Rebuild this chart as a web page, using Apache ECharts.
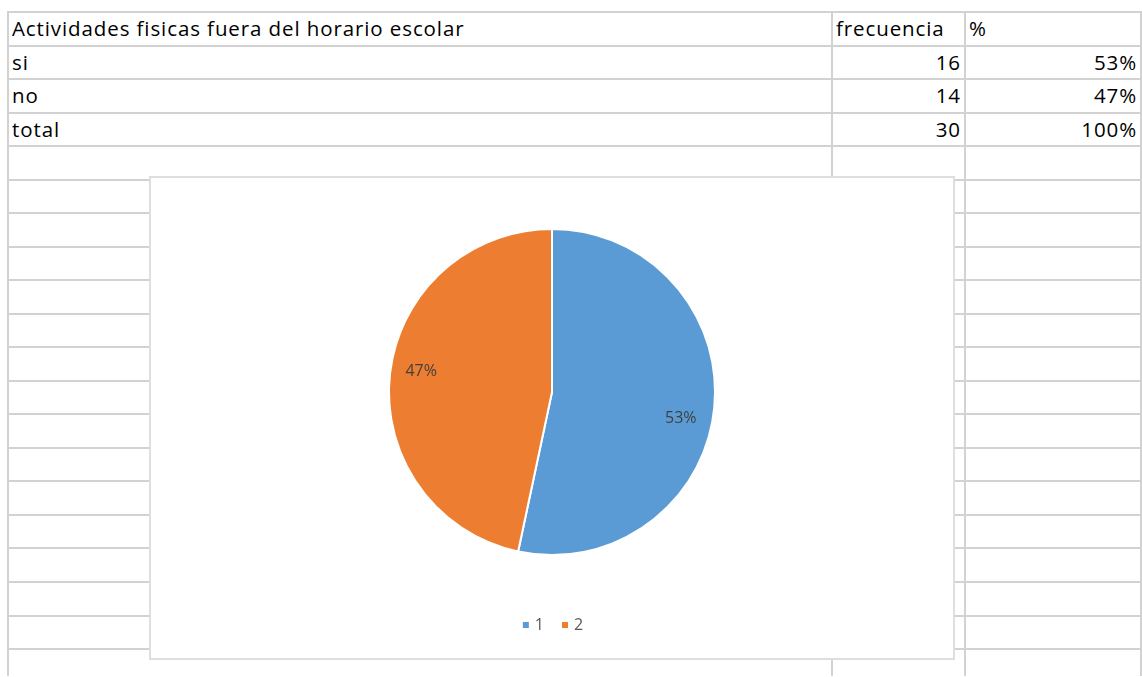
<!DOCTYPE html>
<html>
<head>
<meta charset="utf-8">
<script src="https://cdn.jsdelivr.net/npm/echarts@6/dist/echarts.min.js"></script>
<style>
  html, body { margin: 0; padding: 0; background: #fff; }
  #sheet { position: relative; width: 1142px; height: 677px; overflow: hidden; font-family: 'Open Sans', sans-serif; }
  .hline { position: absolute; height: 2px; background: #d2d2d2; }
  .vline { position: absolute; width: 2px; background: #d2d2d2; }
  .cell { position: absolute; height: 33px; line-height: 33px; font-size: 20.5px; letter-spacing: 0.9px; color: #000; white-space: nowrap; }
  .right { text-align: right; }
  #chartBox { position: absolute; left: 149px; top: 176px; width: 802px; height: 480px; background: #fff; border: 2px solid #dedede; }
  #chart { width: 100%; height: 100%; }
</style>
</head>
<body>
<div id="sheet">
  <div id="chartBox"><div id="chart"></div></div>
</div>
<script>
const headers = ['Actividades fisicas fuera del horario escolar', 'frecuencia', '%']
const rowLabels = ['si', 'no', 'total']
const frequencies = [16, 14, 30]
const percents = ['53%', '47%', '100%']
const pieNames = ['1', '2']
const pieValues = [16, 14]

const sheet = document.getElementById('sheet')
const chartBox = document.getElementById('chartBox')
const rowTop = 12
const rowStep = 33.53
const colX = [8, 832, 965, 1141]

// grid lines of the spreadsheet
for (let i = 0; i < 20; i++) {
  const line = document.createElement('div')
  line.className = 'hline'
  line.style.top = Math.round(rowTop + i * rowStep) - 1 + 'px'
  line.style.left = colX[0] + 'px'
  line.style.width = 1142 - colX[0] + 'px'
  sheet.insertBefore(line, chartBox)
}
colX.forEach((x) => {
  const line = document.createElement('div')
  line.className = 'vline'
  line.style.left = x - 1 + 'px'
  line.style.top = rowTop - 1 + 'px'
  line.style.height = 677 - rowTop + 'px'
  sheet.insertBefore(line, chartBox)
})

function addCell(text, row, col, alignRight) {
  const cell = document.createElement('div')
  cell.className = 'cell' + (alignRight ? ' right' : '')
  cell.textContent = text
  cell.style.top = Math.round(rowTop + row * rowStep) + 'px'
  if (alignRight) {
    cell.style.left = colX[col] + 'px'
    cell.style.width = colX[col + 1] - colX[col] - 4 + 'px'
  } else {
    cell.style.left = colX[col] + 4 + 'px'
  }
  sheet.insertBefore(cell, chartBox)
}

headers.forEach((h, i) => addCell(h, 0, i, false))
rowLabels.forEach((label, i) => {
  addCell(label, i + 1, 0, false)
  addCell(String(frequencies[i]), i + 1, 1, true)
  addCell(percents[i], i + 1, 2, true)
})

const chart = echarts.init(document.getElementById('chart'))
const pieData = pieNames.map((name, i) => ({ name, value: pieValues[i] }))
// small nudges so labels sit where the spreadsheet's "best fit" put them
const labelNudge = [[-5, 12], [3, -7]]

chart.setOption({
  animation: false,
  color: ['#5B9BD5', '#ED7D31'],
  legend: {
    bottom: 20,
    left: 'center',
    itemWidth: 8,
    itemHeight: 8,
    itemGap: 16,
    icon: 'rect',
    textStyle: { color: '#595959', fontSize: 16, fontFamily: 'Open Sans' },
    data: pieNames
  },
  series: [
    {
      type: 'pie',
      center: [401, 214],
      radius: 163,
      startAngle: 90,
      clockwise: true,
      percentPrecision: 0,
      silent: true,
      itemStyle: { borderColor: '#fff', borderWidth: 2 },
      label: { show: false },
      labelLine: { show: false },
      data: pieData
    },
    {
      // transparent ring only used to place the data labels near the rim
      type: 'pie',
      center: [401, 214],
      radius: [100, 163],
      startAngle: 90,
      clockwise: true,
      percentPrecision: 0,
      silent: true,
      legendHoverLink: false,
      itemStyle: { color: 'transparent' },
      label: {
        show: true,
        position: 'inside',
        formatter: '{d}%',
        color: '#404040',
        fontSize: 16,
        fontFamily: 'Open Sans'
      },
      labelLine: { show: false },
      labelLayout(params) {
        const n = labelNudge[params.dataIndex] || [0, 0]
        return { dx: n[0], dy: n[1] }
      },
      data: pieData
    }
  ]
})
</script>
</body>
</html>
